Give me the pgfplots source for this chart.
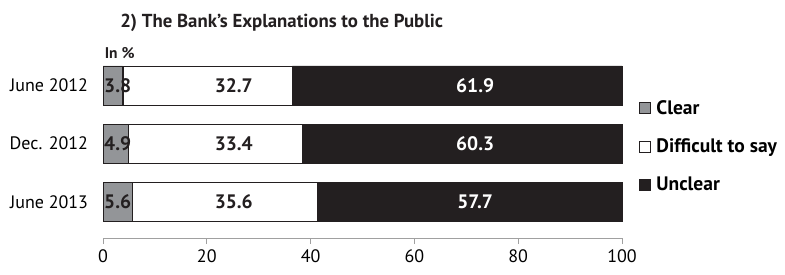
\documentclass[border=0pt]{standalone}
\usepackage{pgfplots}
\pgfplotsset{compat=1.18}
\usepackage{fontspec}
\setmainfont{PT Sans}
\definecolor{dk}{HTML}{231F20}
\definecolor{gr}{HTML}{939598}
\definecolor{ax}{HTML}{A0A0A0}
\pgfplotsset{geom/.style={at={(103pt,-238pt)}, anchor=south west,
  scale only axis, width=519pt, height=176pt,
  xmin=0, xmax=100, ymin=-0.62, ymax=2.4, clip=false}}
\begin{document}
\begin{tikzpicture}
\path[use as bounding box] (0pt,0pt) rectangle (785pt,-274pt);
\begin{axis}[
  geom,
  xbar stacked, bar width=39pt,
  axis x line=bottom, axis y line=none,
  x axis line style={ax, line width=1pt, -},
  xtick={0,20,40,60,80,100},
  major tick length=6pt,
  xtick style={ax, line width=0.8pt},
  tick align=outside,
  x tick label style={font=\fontsize{18}{21}\selectfont, yshift=-2pt},
  /pgf/number format/assume math mode=true,
  ytick={0,1,2},
  legend style={at={(1.032,0.795)}, anchor=north west, draw=none, fill=none,
    font=\fontsize{19.5}{22}\selectfont\bfseries, row sep=19pt, inner sep=0pt,
    legend cell align=left, /tikz/every odd column/.style={column sep=4pt}},
  legend image code/.code={\draw[#1, draw=dk, line width=0.6pt] (0pt,-5.5pt) rectangle (11pt,5.5pt);},
]
\addplot[fill=gr, draw=dk, line width=0.6pt] coordinates {(3.8,2) (4.9,1) (5.6,0)};
\addplot[fill=white, draw=dk, line width=0.4pt] coordinates {(32.7,2) (33.4,1) (35.6,0)};
\addplot[fill=dk, draw=dk, line width=0.4pt] coordinates {(63.5,2) (61.7,1) (58.8,0)};
\legend{Clear, Difficult to say, Unclear}
\end{axis}
\begin{axis}[geom, axis lines=none]
\node[anchor=east, font=\fontsize{18}{21}\selectfont] at (axis cs:-2.2,2) {June 2012};
\node[anchor=east, font=\fontsize{18}{21}\selectfont] at (axis cs:-2.2,1) {Dec. 2012};
\node[anchor=east, font=\fontsize{18}{21}\selectfont] at (axis cs:-2.2,0) {June 2013};
\node[anchor=west, font=\fontsize{19.5}{22}\selectfont\bfseries, inner sep=0pt, text=dk] at (axis cs:0.2,2) {3.8};
\node[anchor=west, font=\fontsize{19.5}{22}\selectfont\bfseries, inner sep=0pt, text=dk] at (axis cs:0.2,1) {4.9};
\node[anchor=west, font=\fontsize{19.5}{22}\selectfont\bfseries, inner sep=0pt, text=dk] at (axis cs:0.2,0) {5.6};
\node[font=\fontsize{19.5}{22}\selectfont\bfseries, text=dk] at (axis cs:25.2,2) {32.7};
\node[font=\fontsize{19.5}{22}\selectfont\bfseries, text=dk] at (axis cs:25.2,1) {33.4};
\node[font=\fontsize{19.5}{22}\selectfont\bfseries, text=dk] at (axis cs:25.2,0) {35.6};
\node[font=\fontsize{19.5}{22}\selectfont\bfseries, text=white] at (axis cs:71.7,2) {61.9};
\node[font=\fontsize{19.5}{22}\selectfont\bfseries, text=white] at (axis cs:71.7,1) {60.3};
\node[font=\fontsize{19.5}{22}\selectfont\bfseries, text=white] at (axis cs:71.7,0) {57.7};
\node[anchor=west, font=\fontsize{18.8}{22}\selectfont\bfseries, text=dk, inner sep=0pt] at (axis cs:3.3,3.08) {2) The Bank's Explanations to the Public};
\node[anchor=west, font=\fontsize{15.5}{18}\selectfont\bfseries, text=dk, inner sep=0pt] at (axis cs:0.3,2.55) {In \%};
\end{axis}
\end{tikzpicture}
\end{document}
